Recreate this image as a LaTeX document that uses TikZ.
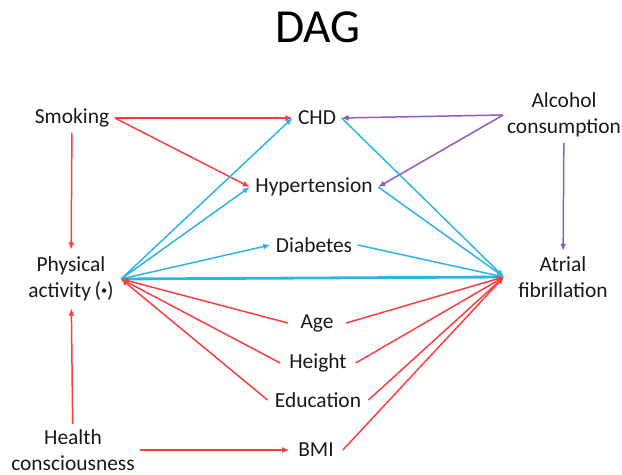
\documentclass[tikz,border=0pt]{standalone}
\usepackage{fontspec}
\setmainfont{Carlito}
\usetikzlibrary{arrows.meta}
\definecolor{dagred}{RGB}{250,62,62}
\definecolor{dagblue}{RGB}{45,180,230}
\definecolor{dagpurple}{RGB}{145,90,190}
\begin{document}
\begin{tikzpicture}[x=0.02cm, y=-0.02cm,
  var/.style={inner sep=3pt, align=center, text=black!90, font=\fontsize{12.2}{14.8}\selectfont},
  tip/.style={-{Latex[length=4pt,width=3.5pt]}},
  redline/.style={draw=dagred, line width=0.85pt},
  blueline/.style={draw=dagblue, line width=0.85pt},
  purpleline/.style={draw=dagpurple, line width=0.85pt}]
\useasboundingbox (0,0) rectangle (622,475);
\node[font=\fontsize{27}{30}\selectfont] (title) at (318,27) {DAG};
\node[var] (smk) at (72,118) {Smoking};
\node[var] (chd) at (317,118) {CHD};
\node[var, inner xsep=2pt] (alc) at (564,115) {Alcohol\\consumption};
\node[var] (hyp) at (314,187) {Hypertension};
\node[var] (dia) at (314,245) {Diabetes};
\node[var, inner sep=4pt] (pa) at (71,279) {Physical\\activity\,(\raisebox{0.35ex}{\scriptsize•})};
\node[var, inner xsep=8pt] (af) at (563,277) {Atrial\\fibrillation};
\node[var, inner xsep=7pt] (age) at (317,323) {Age};
\node[var, inner xsep=5pt] (hgt) at (318,363) {Height};
\node[var, inner xsep=4pt] (edu) at (318,400) {Education};
\node[var, inner xsep=5pt] (bmi) at (316,450) {BMI};
\node[var] (hc) at (73,450) {Health\\consciousness};
\draw[redline, tip](smk) -- (pa);
\draw[redline, tip](smk.east) -- (chd.west);
\draw[redline, tip](smk.east) -- (hyp.west);
\draw[redline, tip](hc) -- (pa);
\draw[redline, tip](hc) -- (bmi);
\draw[purpleline, tip](alc.west) -- (chd.east);
\draw[purpleline, tip](alc.west) -- (hyp.east);
\draw[purpleline, tip](alc) -- (af);
\draw[blueline, tip](pa.east) -- (chd.west);
\draw[blueline, tip](pa.east) -- (hyp.west);
\draw[blueline, tip](pa.east) -- (dia.west);
\draw[blueline, tip, line width=1.6pt](pa.east) -- (af.west);
\draw[blueline, tip](chd.east) -- (af.west);
\draw[blueline, tip](hyp.east) -- (af.west);
\draw[blueline, tip](dia.east) -- (af.west);
\draw[redline, tip](age.west) -- (pa.east);
\draw[redline, tip](hgt.west) -- (pa.east);
\draw[redline, tip](edu.west) -- (pa.east);
\draw[redline, tip](age.east) -- (af.west);
\draw[redline, tip](hgt.east) -- (af.west);
\draw[redline, tip](edu.east) -- (af.west);
\draw[redline, tip](bmi.east) -- (af.west);
\end{tikzpicture}
\end{document}
